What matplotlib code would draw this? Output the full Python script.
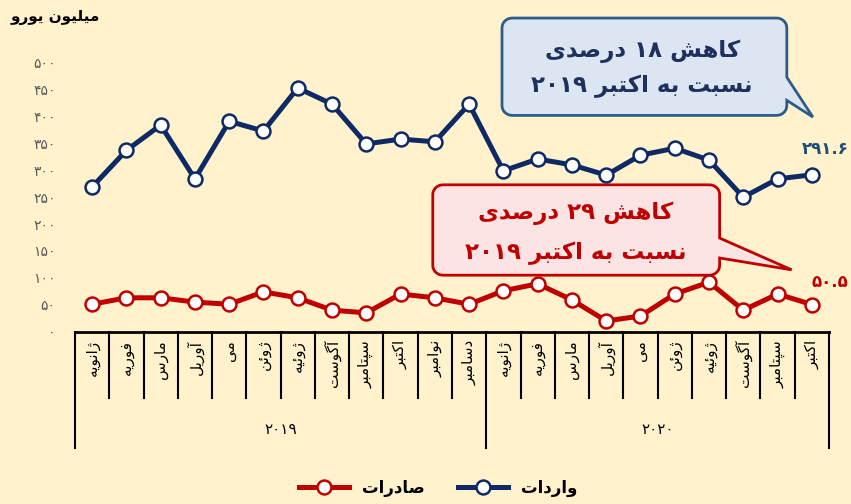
import re
import numpy as np
import matplotlib
matplotlib.use("Agg")
import matplotlib.pyplot as plt
from matplotlib.path import Path
from matplotlib.patches import PathPatch

# ---- simple persian shaping (matplotlib does no arabic shaping) ----
_FE = [('ء', 0xFE80, 0), ('آ', 0xFE81, 1), ('أ', 0xFE83, 1), ('ؤ', 0xFE85, 1), ('إ', 0xFE87, 1),
       ('ئ', 0xFE89, 2), ('ا', 0xFE8D, 1), ('ب', 0xFE8F, 2), ('ة', 0xFE93, 1), ('ت', 0xFE95, 2),
       ('ث', 0xFE99, 2), ('ج', 0xFE9D, 2), ('ح', 0xFEA1, 2), ('خ', 0xFEA5, 2), ('د', 0xFEA9, 1),
       ('ذ', 0xFEAB, 1), ('ر', 0xFEAD, 1), ('ز', 0xFEAF, 1), ('س', 0xFEB1, 2), ('ش', 0xFEB5, 2),
       ('ص', 0xFEB9, 2), ('ض', 0xFEBD, 2), ('ط', 0xFEC1, 2), ('ظ', 0xFEC5, 2), ('ع', 0xFEC9, 2),
       ('غ', 0xFECD, 2), ('ف', 0xFED1, 2), ('ق', 0xFED5, 2), ('ك', 0xFED9, 2), ('ل', 0xFEDD, 2),
       ('م', 0xFEE1, 2), ('ن', 0xFEE5, 2), ('ه', 0xFEE9, 2), ('و', 0xFEED, 1), ('ى', 0xFEEF, 1),
       ('ي', 0xFEF1, 2), ('پ', 0xFB56, 2), ('چ', 0xFB7A, 2), ('ژ', 0xFB8A, 1), ('ک', 0xFB8E, 2),
       ('گ', 0xFB92, 2), ('ی', 0xFBFC, 2)]
FORMS = {c: (b, t) for c, b, t in _FE}


def shape(s):
    out = []
    for i, ch in enumerate(s):
        if ch not in FORMS:
            out.append(ch)
            continue
        base, t = FORMS[ch]
        prev = s[i - 1] if i > 0 else ''
        nxt = s[i + 1] if i + 1 < len(s) else ''
        jp = prev in FORMS and FORMS[prev][1] == 2 and t > 0
        jn = t == 2 and nxt in FORMS and FORMS[nxt][1] > 0
        if t == 0:
            form = 0
        elif jp and jn:
            form = 3
        elif jp:
            form = 1
        elif jn:
            form = 2
        else:
            form = 0
        out.append(chr(base + form))
    return ''.join(out)


def fa(s):
    v = shape(s)[::-1]
    return re.sub(r'[0-9۰-۹.]+', lambda m: m.group(0)[::-1], v)


# ---- data ----
months = ['ژانویه', 'فوریه', 'مارس', 'آوریل', 'می', 'ژوئن', 'ژوئیه', 'آگوست', 'سپتامبر', 'اکتبر', 'نوامبر', 'دسامبر',
          'ژانویه', 'فوریه', 'مارس', 'آوریل', 'می', 'ژوئن', 'ژوئیه', 'آگوست', 'سپتامبر', 'اکتبر']
years = ['۲۰۱۹', '۲۰۲۰']
imports = [269, 337, 384, 284, 391, 373, 453, 423, 349, 358, 353, 423,
           299, 321, 310, 291, 328, 341, 319, 250, 284, 291.6]
exports = [51, 63, 63, 55, 51, 74, 63, 40, 35, 70, 63, 51,
           76, 89, 59, 20, 29, 70, 92, 40, 70, 50.5]
yticks = [0, 50, 100, 150, 200, 250, 300, 350, 400, 450, 500]
ytick_labels = ['۰', '۵۰', '۱۰۰', '۱۵۰', '۲۰۰', '۲۵۰', '۳۰۰', '۳۵۰', '۴۰۰', '۴۵۰', '۵۰۰']

NAVY = '#0E2A66'
RED = '#C00000'
BG = '#FFF2CC'

plt.rcParams['font.family'] = ['DejaVu Sans']

fig = plt.figure(figsize=(8.51, 5.04), dpi=100, facecolor=BG)
ax = fig.add_axes([0.0881, 0.3419, 0.886, 0.5337], facecolor=BG)
x = np.arange(len(months))

ax.plot(x, imports, color=NAVY, lw=3.6, marker='o', ms=10, mfc='white', mec=NAVY, mew=1.8,
        label=fa('واردات'), zorder=5, clip_on=False)
ax.plot(x, exports, color=RED, lw=3.6, marker='o', ms=10, mfc='white', mec=RED, mew=1.8,
        label=fa('صادرات'), zorder=5, clip_on=False)

ax.set_xlim(-0.5, len(months) - 0.5)
ax.set_ylim(0, 500)
ax.set_yticks(yticks)
ax.set_yticklabels(ytick_labels, color='#595959', fontsize=10)
ax.tick_params(axis='y', length=0, pad=14)
ax.set_xticks([])
for s in ['top', 'right', 'left']:
    ax.spines[s].set_visible(False)
ax.spines['bottom'].set_linewidth(2)

# ---- table under the axis ----
tr = ax.get_xaxis_transform()
row1, row2 = -0.246, -0.432
for i in range(len(months) + 1):
    bottom = row2 if i in (0, 12, len(months)) else row1
    ax.plot([i - 0.5, i - 0.5], [0, bottom], color='black', lw=1.5, transform=tr, clip_on=False)
for i, m in enumerate(months):
    ax.text(i, -0.03, fa(m), rotation=90, ha='center', va='top', fontsize=11, transform=tr)
ax.text(5.5, -0.365, years[0], ha='center', va='center', fontsize=11, transform=tr)
ax.text(16.5, -0.365, years[1], ha='center', va='center', fontsize=11, transform=tr)

# end labels
fig.text(0.997, 0.705, '۲۹۱.۶', color='#1F4E79', fontsize=12, fontweight='bold', ha='right', va='center')
fig.text(0.997, 0.44, '۵۰.۵', color=RED, fontsize=12, fontweight='bold', ha='right', va='center')


# ---- callouts ----
def callout(x0, x1, y0, y1, pb0, pb1, tip, rx=0.3, ry=18, n=8):
    pts = []
    def arc(cx, cy, a0, a1):
        for t in np.linspace(a0, a1, n):
            pts.append((cx + rx * np.cos(t), cy + ry * np.sin(t)))
    arc(x1 - rx, y0 + ry, -np.pi / 2, 0)          # bottom right
    pts.append((x1, pb0))
    pts.append(tip)
    pts.append((x1, pb1))
    arc(x1 - rx, y1 - ry, 0, np.pi / 2)           # top right
    arc(x0 + rx, y1 - ry, np.pi / 2, np.pi)       # top left
    arc(x0 + rx, y0 + ry, np.pi, 1.5 * np.pi)     # bottom left
    pts.append(pts[0])
    return Path(pts, closed=True)


blue = callout(11.96, 20.27, 402, 583, 430, 473, (21.03, 399))
ax.add_patch(PathPatch(blue, facecolor='#DCE6F2', edgecolor='#2E5C8A', lw=2, clip_on=False, zorder=3))
red = callout(9.94, 18.31, 105, 273, 137, 174, (20.41, 115))
ax.add_patch(PathPatch(red, facecolor='#FCE4E4', edgecolor=RED, lw=2, clip_on=False, zorder=3))

ax.text(16.05, 521, fa('کاهش ۱۸ درصدی'), color='#1F2F5E', fontsize=16.5, fontweight='bold',
        ha='center', va='center', zorder=4, clip_on=False)
ax.text(16.05, 457, fa('نسبت به اکتبر ۲۰۱۹'), color='#1F2F5E', fontsize=16.5, fontweight='bold',
        ha='center', va='center', zorder=4, clip_on=False)
ax.text(14.1, 220, fa('کاهش ۲۹ درصدی'), color=RED, fontsize=16.5, fontweight='bold',
        ha='center', va='center', zorder=4, clip_on=False)
ax.text(14.1, 146, fa('نسبت به اکتبر ۲۰۱۹'), color=RED, fontsize=16.5, fontweight='bold',
        ha='center', va='center', zorder=4, clip_on=False)

fig.text(0.012, 0.965, fa('میلیون یورو'), fontsize=11, fontweight='bold', ha='left', va='center')

handles, labels = ax.get_legend_handles_labels()
fig.legend(handles[::-1], labels[::-1], loc='center', bbox_to_anchor=(0.515, 0.032), ncol=2, frameon=False,
           prop={'size': 12, 'weight': 'bold'}, handlelength=3, columnspacing=2.0)

fig.savefig('out.png', dpi=100, facecolor=BG)
